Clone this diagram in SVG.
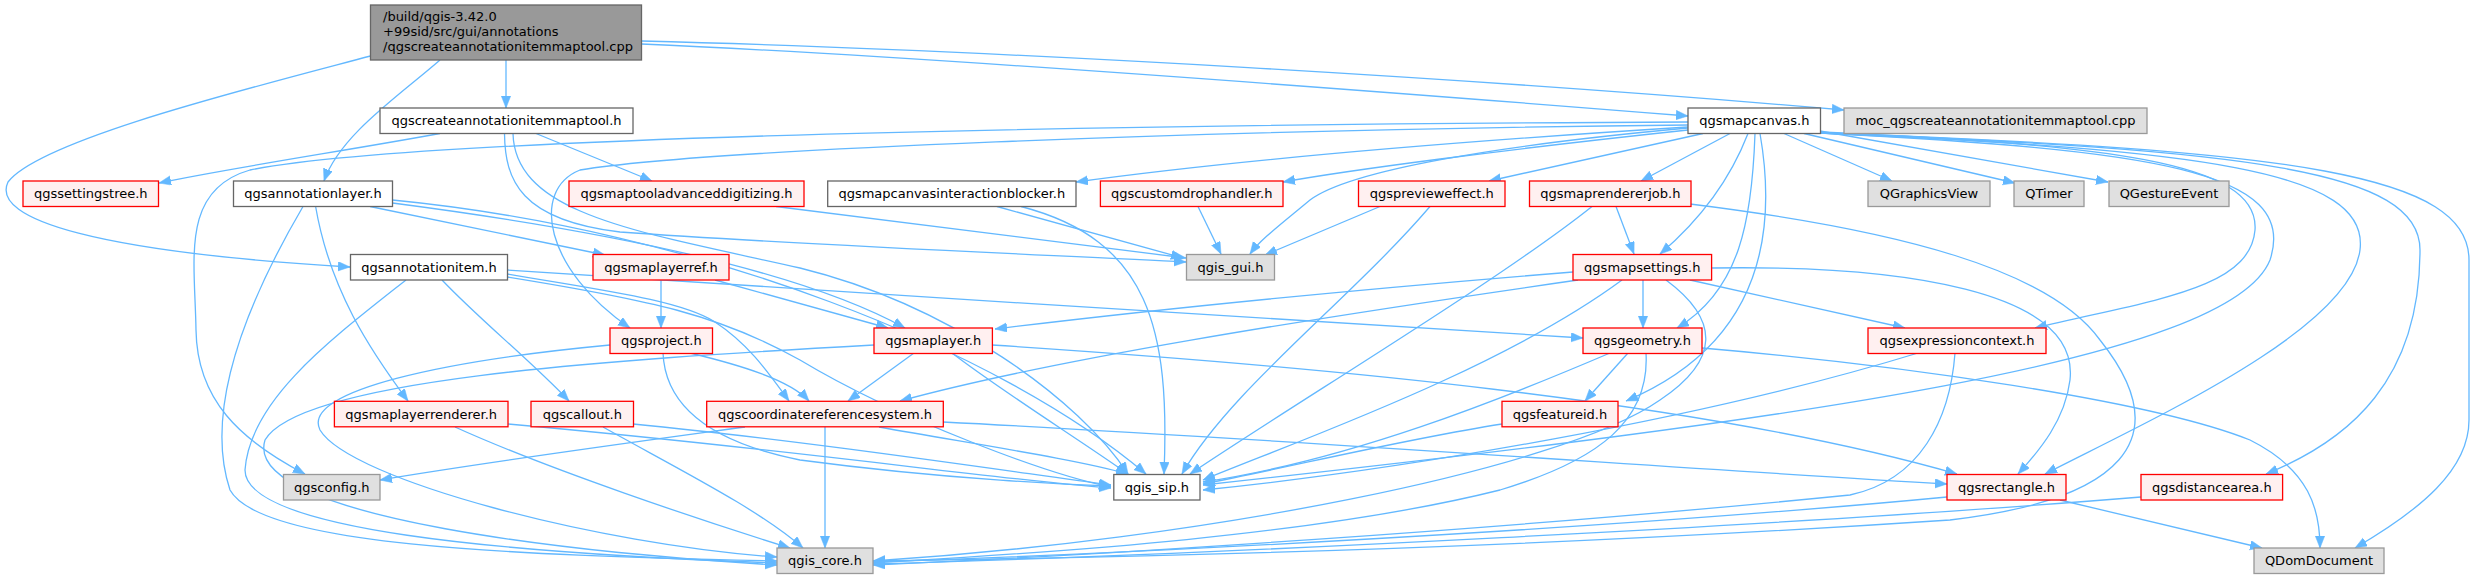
<svg xmlns="http://www.w3.org/2000/svg" width="2475" height="579" viewBox="0 0 2475 579">
<defs>
<marker id="ah" markerUnits="userSpaceOnUse" markerWidth="13" markerHeight="11" refX="12" refY="4.7" orient="auto">
<path d="M0,0 L12,4.7 L0,9.4 z" fill="#63B8FF" stroke="#63B8FF" stroke-width="0.5"/>
</marker>
</defs>
<style>
.e{fill:none;stroke:#63B8FF;stroke-width:1.3;marker-end:url(#ah)}
.root{fill:#999999;stroke:#666666;stroke-width:1.3}
.w{fill:#FFFFFF;stroke:#666666;stroke-width:1.3}
.r{fill:#FFF0F0;stroke:#FF0000;stroke-width:1.3}
.g{fill:#E0E0E0;stroke:#999999;stroke-width:1.3}
text{font-family:"DejaVu Sans","Liberation Sans",sans-serif;font-size:13px;fill:#000000}
.c{text-anchor:middle}
</style>
<rect width="2475" height="579" fill="#FFFFFF"/>
<g id="edges">
<path class="e" d="M506,60 L506,108"/>
<path class="e" d="M440,60 C400,95 340,135 324,181"/>
<path class="e" d="M370.5,56 C250,88 40,140 8,182 C-10,220 100,252 350,267"/>
<path class="e" d="M641.5,44 C900,55 1300,85 1688,116"/>
<path class="e" d="M641.5,41 C1000,50 1500,80 1844,110"/>
<path class="e" d="M440,133.5 C350,150 230,168 159,183"/>
<path class="e" d="M536,133.5 L652,181"/>
<path class="e" d="M504.5,133.5 C505,180 520,220 620,232 C800,245 1050,255 1186,262"/>
<path class="e" d="M513,133.5 C515,215 640,232 800,268 C950,305 1080,400 1128,474"/>
<path class="e" d="M303,206.5 C260,280 200,400 230,490 C260,545 500,555 777,561"/>
<path class="e" d="M315.6,206.5 C330,290 370,350 408,401"/>
<path class="e" d="M370,206.5 L605,255"/>
<path class="e" d="M392.5,203 C600,230 800,270 905,328"/>
<path class="e" d="M392.5,200 C700,230 1000,350 1146,474"/>
<path class="e" d="M406,280 C330,340 250,400 245,470 C245,530 500,553 777,563"/>
<path class="e" d="M442,280 C480,320 530,360 569,401"/>
<path class="e" d="M507.5,274 C600,290 680,300 715,322 C750,345 770,375 789,401"/>
<path class="e" d="M507.5,277 C650,300 720,315 800,360 C900,420 1050,475 1111,487"/>
<path class="e" d="M507.5,270 C800,290 1300,320 1583,338"/>
<path class="e" d="M661,280 L661,328"/>
<path class="e" d="M715,280 L888,328"/>
<path class="e" d="M610,345 C450,360 300,390 320,430 C350,480 600,545 777,557"/>
<path class="e" d="M690,353 C740,365 790,380 809,401"/>
<path class="e" d="M663,353 C665,400 700,440 800,460 C950,480 1080,485 1111,486"/>
<path class="e" d="M874,345 C600,360 300,380 265,440 C240,520 600,555 777,565"/>
<path class="e" d="M952,353 C1000,390 1080,440 1128,474"/>
<path class="e" d="M914,353 L848,401"/>
<path class="e" d="M992,345 C1300,365 1700,400 1957,474"/>
<path class="e" d="M745,427 C650,440 500,460 380,480"/>
<path class="e" d="M825,427 L825,548"/>
<path class="e" d="M879,427 C980,445 1080,460 1128,474"/>
<path class="e" d="M943,422 C1300,440 1700,470 1947,484"/>
<path class="e" d="M455,427 C550,470 700,520 790,548"/>
<path class="e" d="M508,424 C800,450 1000,480 1111,488"/>
<path class="e" d="M603,427 C680,470 760,510 803,548"/>
<path class="e" d="M633,424 C800,440 1000,470 1111,485"/>
<path class="e" d="M997,206.5 L1183,258"/>
<path class="e" d="M1021,206.5 C1150,240 1170,330 1164,474"/>
<path class="e" d="M1198,206.5 L1221,254"/>
<path class="e" d="M1380,206.5 L1265,255"/>
<path class="e" d="M1430,206.5 C1350,300 1230,390 1182,474"/>
<path class="e" d="M776,206.5 L1186,258"/>
<path class="e" d="M1616,206.5 L1634,254"/>
<path class="e" d="M1592,206.5 C1500,280 1300,400 1190,474"/>
<path class="e" d="M1690,204 C1900,230 2050,270 2100,340 C2180,440 2120,500 1950,520 C1500,550 1100,558 873,561"/>
<path class="e" d="M1573,272 C1350,290 1150,310 995,329"/>
<path class="e" d="M1578,280 C1300,320 1050,360 900,401"/>
<path class="e" d="M1622,280 C1500,370 1300,440 1203,480"/>
<path class="e" d="M1643,280 L1643,328"/>
<path class="e" d="M1690,280 L1905,328"/>
<path class="e" d="M1712,268 C1900,265 2080,290 2070,380 C2065,420 2040,450 2018,474"/>
<path class="e" d="M1666,280 C1720,320 1720,360 1660,400 C1560,470 1200,540 873,561"/>
<path class="e" d="M1748,133.5 C1730,180 1700,220 1660,254"/>
<path class="e" d="M1755,133.5 C1752,220 1740,290 1677,328"/>
<path class="e" d="M1760,133.5 C1775,220 1770,340 1626,401"/>
<path class="e" d="M1628,353 L1585,401"/>
<path class="e" d="M1820,132 C2100,145 2260,160 2255,230 C2250,290 2150,300 2035,328"/>
<path class="e" d="M1820,133 C2150,150 2300,170 2270,260 C2230,360 1800,420 1203,485"/>
<path class="e" d="M1820,133 C2200,150 2370,170 2360,250 C2350,330 2150,420 2045,474"/>
<path class="e" d="M1820,133 C2250,150 2420,170 2420,250 C2420,380 2350,440 2266,474"/>
<path class="e" d="M1820,133 C2300,150 2469,175 2469,260 L2469,420 C2469,470 2420,510 2355,548"/>
<path class="e" d="M1784,133.5 L1892,181"/>
<path class="e" d="M1804,133.5 L2015,183"/>
<path class="e" d="M1820,131 L2108,182"/>
<path class="e" d="M1730,133.5 L1641,181"/>
<path class="e" d="M1703,133.5 L1489,181"/>
<path class="e" d="M1688,130 C1500,150 1350,170 1283,182"/>
<path class="e" d="M1688,127 C1400,145 1200,165 1076,182"/>
<path class="e" d="M1688,128 C1500,145 1350,170 1310,200 C1280,225 1260,240 1250,254"/>
<path class="e" d="M1688,122 C1000,125 400,140 250,170 C180,190 195,260 196,330 C197,400 240,440 305,474"/>
<path class="e" d="M1688,125 C1200,130 700,150 580,170 C530,190 545,270 630,328"/>
<path class="e" d="M1610,353 C1500,400 1350,460 1203,482"/>
<path class="e" d="M1646,353 C1650,420 1600,460 1500,490 C1300,540 1000,555 873,563"/>
<path class="e" d="M1702,348 C1900,365 2150,400 2250,440 C2310,470 2320,510 2320,548"/>
<path class="e" d="M1918,353 C1700,420 1400,470 1203,490"/>
<path class="e" d="M1955,353 C1950,420 1920,480 1850,495 C1500,530 1100,555 873,565"/>
<path class="e" d="M1502,424 C1400,440 1300,465 1203,484"/>
<path class="e" d="M1947,497 C1600,530 1100,555 873,562"/>
<path class="e" d="M2060,500 L2262,548"/>
<path class="e" d="M2141,497 C1800,525 1200,555 873,564"/>
</g>
<g id="n_root"><rect class="root" x="370.5" y="5" width="271" height="55"/><text x="383" y="21">/build/qgis-3.42.0</text><text x="383" y="36">+99sid/src/gui/annotations</text><text x="383" y="51">/qgscreateannotationitemmaptool.cpp</text></g>
<g id="n_createh"><rect class="w" x="380" y="108" width="253" height="25.5"/><text class="c" x="506.5" y="125.3">qgscreateannotationitemmaptool.h</text></g>
<g id="n_mapcanvas"><rect class="w" x="1688" y="108" width="132.5" height="25.5"/><text class="c" x="1754.3" y="125.3">qgsmapcanvas.h</text></g>
<g id="n_moc"><rect class="g" x="1844" y="108" width="303" height="25.5"/><text class="c" x="1995.5" y="125.3">moc_qgscreateannotationitemmaptool.cpp</text></g>
<g id="n_settingstree"><rect class="r" x="23" y="181" width="135.5" height="25.5"/><text class="c" x="90.8" y="198.3">qgssettingstree.h</text></g>
<g id="n_annotationlayer"><rect class="w" x="233.5" y="181" width="159" height="25.5"/><text class="c" x="313" y="198.3">qgsannotationlayer.h</text></g>
<g id="n_maptooladv"><rect class="r" x="569" y="181" width="235" height="25.5"/><text class="c" x="686.5" y="198.3">qgsmaptooladvanceddigitizing.h</text></g>
<g id="n_blocker"><rect class="w" x="827.7" y="181" width="248.3" height="25.5"/><text class="c" x="951.8" y="198.3">qgsmapcanvasinteractionblocker.h</text></g>
<g id="n_customdrop"><rect class="r" x="1100.4" y="181" width="182.6" height="25.5"/><text class="c" x="1191.7" y="198.3">qgscustomdrophandler.h</text></g>
<g id="n_preview"><rect class="r" x="1358.5" y="181" width="146.5" height="25.5"/><text class="c" x="1431.8" y="198.3">qgsprevieweffect.h</text></g>
<g id="n_rendererjob"><rect class="r" x="1529.5" y="181" width="161.5" height="25.5"/><text class="c" x="1610.3" y="198.3">qgsmaprendererjob.h</text></g>
<g id="n_qgraphicsview"><rect class="g" x="1868" y="181" width="122" height="25.5"/><text class="c" x="1929" y="198.3">QGraphicsView</text></g>
<g id="n_qtimer"><rect class="g" x="2014" y="181" width="70" height="25.5"/><text class="c" x="2049" y="198.3">QTimer</text></g>
<g id="n_qgestureevent"><rect class="g" x="2109" y="181" width="120" height="25.5"/><text class="c" x="2169" y="198.3">QGestureEvent</text></g>
<g id="n_annotationitem"><rect class="w" x="350.5" y="254.5" width="157" height="25.5"/><text class="c" x="429" y="271.8">qgsannotationitem.h</text></g>
<g id="n_maplayerref"><rect class="r" x="593" y="254.5" width="136" height="25.5"/><text class="c" x="661" y="271.8">qgsmaplayerref.h</text></g>
<g id="n_qgisgui"><rect class="g" x="1186.5" y="254.5" width="88" height="25.5"/><text class="c" x="1230.5" y="271.8">qgis_gui.h</text></g>
<g id="n_mapsettings"><rect class="r" x="1573" y="254.5" width="138.6" height="25.5"/><text class="c" x="1642.3" y="271.8">qgsmapsettings.h</text></g>
<g id="n_project"><rect class="r" x="610" y="328" width="102.5" height="25.5"/><text class="c" x="661.3" y="345.3">qgsproject.h</text></g>
<g id="n_maplayer"><rect class="r" x="874" y="328" width="118.4" height="25.5"/><text class="c" x="933.2" y="345.3">qgsmaplayer.h</text></g>
<g id="n_geometry"><rect class="r" x="1583" y="328" width="119" height="25.5"/><text class="c" x="1642.5" y="345.3">qgsgeometry.h</text></g>
<g id="n_exprcontext"><rect class="r" x="1868" y="328" width="178" height="25.5"/><text class="c" x="1957" y="345.3">qgsexpressioncontext.h</text></g>
<g id="n_layerrenderer"><rect class="r" x="334.4" y="401.3" width="173.6" height="25.5"/><text class="c" x="421.2" y="418.6">qgsmaplayerrenderer.h</text></g>
<g id="n_callout"><rect class="r" x="531" y="401.3" width="102.5" height="25.5"/><text class="c" x="582.3" y="418.6">qgscallout.h</text></g>
<g id="n_crs"><rect class="r" x="706.7" y="401.3" width="236.6" height="25.5"/><text class="c" x="825" y="418.6">qgscoordinatereferencesystem.h</text></g>
<g id="n_featureid"><rect class="r" x="1502" y="401.3" width="116" height="25.5"/><text class="c" x="1560" y="418.6">qgsfeatureid.h</text></g>
<g id="n_config"><rect class="g" x="283.5" y="474.5" width="96.5" height="25.5"/><text class="c" x="331.8" y="491.8">qgsconfig.h</text></g>
<g id="n_qgissip"><rect class="w" x="1113.8" y="474.5" width="86.2" height="25.5"/><text class="c" x="1156.9" y="491.8">qgis_sip.h</text></g>
<g id="n_rectangle"><rect class="r" x="1947" y="474.5" width="119" height="25.5"/><text class="c" x="2006.5" y="491.8">qgsrectangle.h</text></g>
<g id="n_distancearea"><rect class="r" x="2141" y="474.5" width="141.6" height="25.5"/><text class="c" x="2211.8" y="491.8">qgsdistancearea.h</text></g>
<g id="n_qgiscore"><rect class="g" x="777" y="548" width="96" height="25.5"/><text class="c" x="825" y="565.3">qgis_core.h</text></g>
<g id="n_qdomdocument"><rect class="g" x="2254" y="548" width="130" height="25.5"/><text class="c" x="2319" y="565.3">QDomDocument</text></g>
</svg>
